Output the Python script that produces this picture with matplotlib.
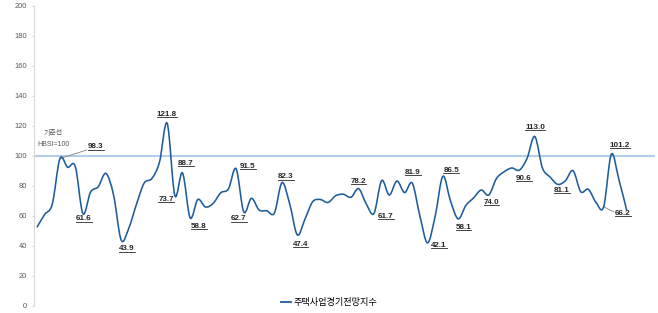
import matplotlib
matplotlib.use('Agg')
import matplotlib.pyplot as plt
import numpy as np
from matplotlib.path import Path
from matplotlib.patches import PathPatch
from matplotlib.lines import Line2D

plt.rcParams['font.family'] = ['Liberation Sans', 'Noto Sans CJK KR', 'DejaVu Sans']

# monthly index values
hbsi = [52.5, 61, 68, 98.3, 92.5, 93, 61.6, 76, 79.5, 88.4,
        74, 43.9, 52, 68, 82, 85, 96, 121.8, 73.7, 88.7,
        58.8, 71, 66, 68.4, 75.5, 78, 91.5, 62.7, 71.8, 64,
        63.5, 62, 82.3, 68, 47.4, 58, 69.5, 71, 69, 73.5,
        74.5, 72.5, 78.2, 68, 61.7, 83.6, 74, 83.3, 75.6, 81.9,
        60, 42.1, 60, 86.5, 70, 58.1, 67, 72, 77.3, 74.0,
        85, 89.5, 92, 90.6, 98.5, 113.0, 92, 86, 81.1, 83.5,
        90.2, 76.2, 77.8, 69, 66.2, 101.2, 84, 64]
series_name = '주택사업경기전망지수'
y_ticks = list(range(0, 201, 20))
base_value = 100

# which points get a value label, and where the label sits
label_idx = [3, 6, 11, 17, 18, 19, 20, 26, 27, 32, 34, 42, 44, 49, 51, 53, 55, 59, 63, 65, 68, 74, 75]
label_pos = [(7.7, 106), (6.1, 58), (11.75, 38), (16.97, 128), (16.84, 71.3), (19.45, 95.3),
             (21.15, 53.3), (27.55, 93.3), (26.37, 58), (32.5, 86), (34.4, 41.3), (41.97, 82.9),
             (45.56, 59.5), (49.09, 88.7), (52.48, 40.2), (54.11, 90.2), (55.68, 52.2),
             (59.33, 68.9), (63.58, 85.3), (65.08, 119.3), (68.54, 77.3), (76.5, 61.8), (76.1, 106.9)]

line_color = '#1f5c9c'

fig = plt.figure(figsize=(6.58, 3.13), dpi=100)
ax = fig.add_axes([34 / 658, 7 / 313, 621 / 658, 300 / 313])

x = np.arange(len(hbsi))
y = np.array(hbsi, dtype=float)

# smoothed line like Excel: one cubic bezier between each pair of points
pts = np.column_stack([x, y])
pad = np.vstack([pts[0], pts, pts[-1]])
verts = [pts[0]]
codes = [Path.MOVETO]
for i in range(len(pts) - 1):
    p0, p1, p2, p3 = pad[i], pad[i + 1], pad[i + 2], pad[i + 3]
    verts += [p1 + (p2 - p0) / 6, p2 - (p3 - p1) / 6, p2]
    codes += [Path.CURVE4] * 3
ax.add_patch(PathPatch(Path(verts, codes), fill=False, edgecolor=line_color, lw=1.15, zorder=3))

ax.axhline(base_value, color='#b4cde8', lw=1.5, zorder=2)

ax.set_xlim(-0.39, 80.7)
ax.set_ylim(0, 200)
ax.set_yticks(y_ticks)
ax.set_xticks([])
for s in ['top', 'right', 'bottom']:
    ax.spines[s].set_visible(False)
ax.spines['left'].set_color('#d9d9d9')
ax.tick_params(axis='y', length=1.5, color='#d9d9d9', labelsize=5.4, labelcolor='#595959', pad=3.3)

# value labels
texts = []
for i, (tx, ty) in zip(label_idx, label_pos):
    t = ax.text(tx, ty, '%.1f' % hbsi[i], ha='center', va='center', fontsize=5.8,
                fontweight='bold', color='#262626', zorder=4)
    texts.append(t)

# leader lines
ax.plot([3, 6.5], [98.3, 104], color='#808080', lw=0.6)
ax.plot([74, 75.3], [66.2, 62.7], color='#808080', lw=0.6)

ax.text(2.09, 115.3, '기준선', ha='center', va='center', fontsize=5, color='#595959')
ax.text(2.15, 108, 'HBSI=100', ha='center', va='center', fontsize=5, color='#595959')

handle = Line2D([], [], color=line_color, lw=1.3)
fig.legend(handles=[handle], labels=[series_name], loc='center', bbox_to_anchor=(0.5, 0.032),
           frameon=False, handlelength=1.1, handletextpad=0.2,
           prop={'family': ['Noto Sans CJK KR'], 'size': 6.6})

# underline the value labels
fig.canvas.draw()
for t in texts:
    bb = t.get_window_extent()
    fig.add_artist(Line2D([bb.x0, bb.x1], [bb.y0 + 1, bb.y0 + 1], transform=None,
                          color='#262626', lw=0.6))

fig.savefig('out.png', dpi=100)
